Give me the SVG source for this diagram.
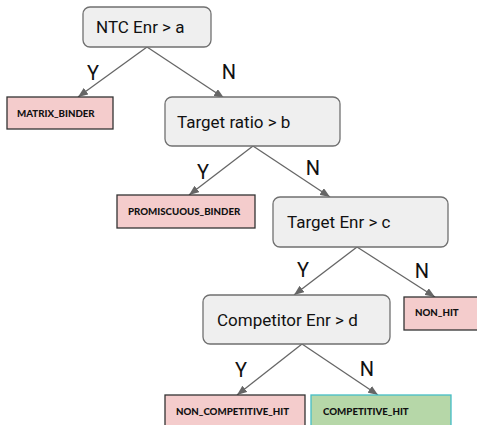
<svg xmlns="http://www.w3.org/2000/svg" width="477" height="425" viewBox="0 0 477 425">
<defs>
<style>
.node rect{fill:#efefef;stroke:#707070;stroke-width:1.3}
.node text{font-family:Roboto,"Liberation Sans",sans-serif;font-size:17px;fill:#111}
.leaf rect{fill:#f4cccc;stroke:#333;stroke-width:1.3}
.leaf text{font-family:Lato,"Liberation Sans",sans-serif;font-weight:900;font-size:9.7px;fill:#111}
.green rect{fill:#b6d7a8;stroke:#46bdc6;stroke-width:1.3}
.conn line{stroke:#666;stroke-width:1.3;marker-end:url(#arr)}
.lbl{font-family:Roboto,"Liberation Sans",sans-serif;font-size:20px;fill:#111}
</style>
<marker id="arr" markerWidth="10" markerHeight="8" refX="10" refY="4" orient="auto" markerUnits="userSpaceOnUse">
<path d="M0,0 L10,4 L0,8 z" fill="#666"/>
</marker>
</defs>
<rect width="477" height="425" fill="#fff"/>
<g id="connectors" class="conn">
<line x1="147" y1="47" x2="78" y2="97"/>
<line x1="147" y1="47" x2="224" y2="98"/>
<line x1="253" y1="146" x2="189" y2="195"/>
<line x1="253" y1="146" x2="330" y2="197"/>
<line x1="357" y1="247" x2="294" y2="295"/>
<line x1="357" y1="247" x2="435" y2="297"/>
<line x1="302" y1="344" x2="237" y2="395"/>
<line x1="302" y1="344" x2="378" y2="395"/>
</g>
<g id="labels">
<text class="lbl" x="93" y="80" text-anchor="middle">Y</text>
<text class="lbl" x="229" y="79" text-anchor="middle">N</text>
<text class="lbl" x="203" y="179" text-anchor="middle">Y</text>
<text class="lbl" x="313" y="175" text-anchor="middle">N</text>
<text class="lbl" x="303" y="277" text-anchor="middle">Y</text>
<text class="lbl" x="422" y="278" text-anchor="middle">N</text>
<text class="lbl" x="241" y="377" text-anchor="middle">Y</text>
<text class="lbl" x="367" y="376" text-anchor="middle">N</text>
</g>
<g id="n_ntc" class="node"><rect x="83" y="7" width="128" height="40" rx="7"/><text x="96" y="33">NTC Enr &gt; a</text></g>
<g id="n_ratio" class="node"><rect x="165" y="97" width="175" height="49" rx="7"/><text x="177" y="128">Target ratio &gt; b</text></g>
<g id="n_tenr" class="node"><rect x="273" y="197" width="175" height="50" rx="7"/><text x="287" y="228">Target Enr &gt; c</text></g>
<g id="n_comp" class="node"><rect x="203" y="295" width="187" height="49" rx="7"/><text x="217" y="326">Competitor Enr &gt; d</text></g>
<g id="l_matrix" class="leaf"><rect x="7" y="97" width="106" height="32"/><text x="17" y="117">MATRIX_BINDER</text></g>
<g id="l_prom" class="leaf"><rect x="117" y="195" width="138" height="33"/><text x="128" y="215">PROMISCUOUS_BINDER</text></g>
<g id="l_nonhit" class="leaf"><rect x="404" y="297" width="76" height="33"/><text x="415" y="316">NON_HIT</text></g>
<g id="l_noncomp" class="leaf"><rect x="165" y="395" width="140" height="40"/><text x="176" y="415">NON_COMPETITIVE_HIT</text></g>
<g id="l_comp" class="leaf green"><rect x="311" y="395" width="140" height="40"/><text x="323" y="415">COMPETITIVE_HIT</text></g>
</svg>
